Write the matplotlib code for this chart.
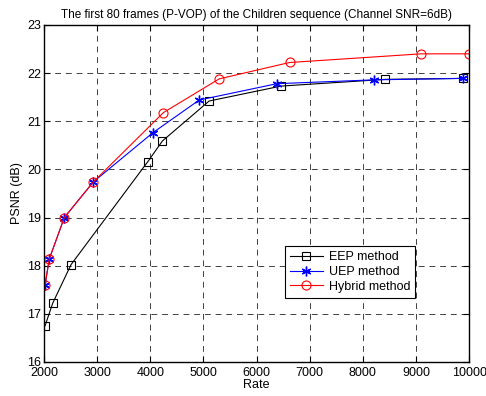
import matplotlib.pyplot as plt

plt.rcParams['font.family'] = ['Liberation Sans', 'DejaVu Sans']
plt.rcParams['font.size'] = 9

# ---- data ----
eep_rate = [2020, 2164, 2508, 3953, 4228, 5107, 6458, 8422, 9885]
eep_psnr = [16.75, 17.22, 18.02, 20.16, 20.59, 21.42, 21.73, 21.87, 21.89]

uep_rate = [2020, 2100, 2383, 2929, 4047, 4919, 6382, 8215, 9885]
uep_psnr = [17.6, 18.14, 19.0, 19.74, 20.76, 21.44, 21.78, 21.86, 21.89]

hyb_rate = [2020, 2100, 2383, 2929, 4247, 5296, 6620, 9094, 10000]
hyb_psnr = [17.6, 18.14, 19.0, 19.74, 21.18, 21.88, 22.22, 22.40, 22.40]

x_ticks = [2000, 3000, 4000, 5000, 6000, 7000, 8000, 9000, 10000]
y_ticks = [16, 17, 18, 19, 20, 21, 22, 23]

# ---- plot ----
fig = plt.figure(figsize=(4.86, 3.96), dpi=100)
ax = fig.add_axes([0.0905, 0.086, 0.875, 0.851])

ax.plot(eep_rate, eep_psnr, color='black', lw=0.8, marker='s', ms=6,
        mfc='none', mec='black', mew=0.8, label='EEP method')
ax.plot(uep_rate, uep_psnr, color='blue', lw=0.8, marker=(6, 2, 0), ms=7,
        mec='blue', mew=1.0, label='UEP method')
ax.plot(hyb_rate, hyb_psnr, color='red', lw=0.8, marker='o', ms=6.5,
        mfc='none', mec='red', mew=0.8, label='Hybrid method')

ax.set_xlim(2000, 10000)
ax.set_ylim(16, 23)
ax.set_xticks(x_ticks)
ax.set_yticks(y_ticks)
ax.tick_params(direction='in', top=True, right=True, length=4, width=0.8, pad=2)
ax.tick_params(axis='x', pad=3.5)
ax.grid(True, color='black', linestyle=(0, (6, 5)), lw=0.7, alpha=0.75)
for s in ax.spines.values():
    s.set_linewidth(1.0)

ax.set_xlabel('Rate', labelpad=0)
ax.set_ylabel('PSNR (dB)', labelpad=3)
ax.set_title('The first 80 frames (P-VOP) of the Children sequence (Channel SNR=6dB)',
             fontsize=8.5, pad=5)

leg = ax.legend(loc='lower right', bbox_to_anchor=(0.888, 0.172), fancybox=False,
                framealpha=1, edgecolor='black', handlelength=2.6, borderpad=0.4,
                labelspacing=0.22, handletextpad=0.5, fontsize=9)
leg.get_frame().set_linewidth(0.8)

fig.savefig('out.png', dpi=100)
